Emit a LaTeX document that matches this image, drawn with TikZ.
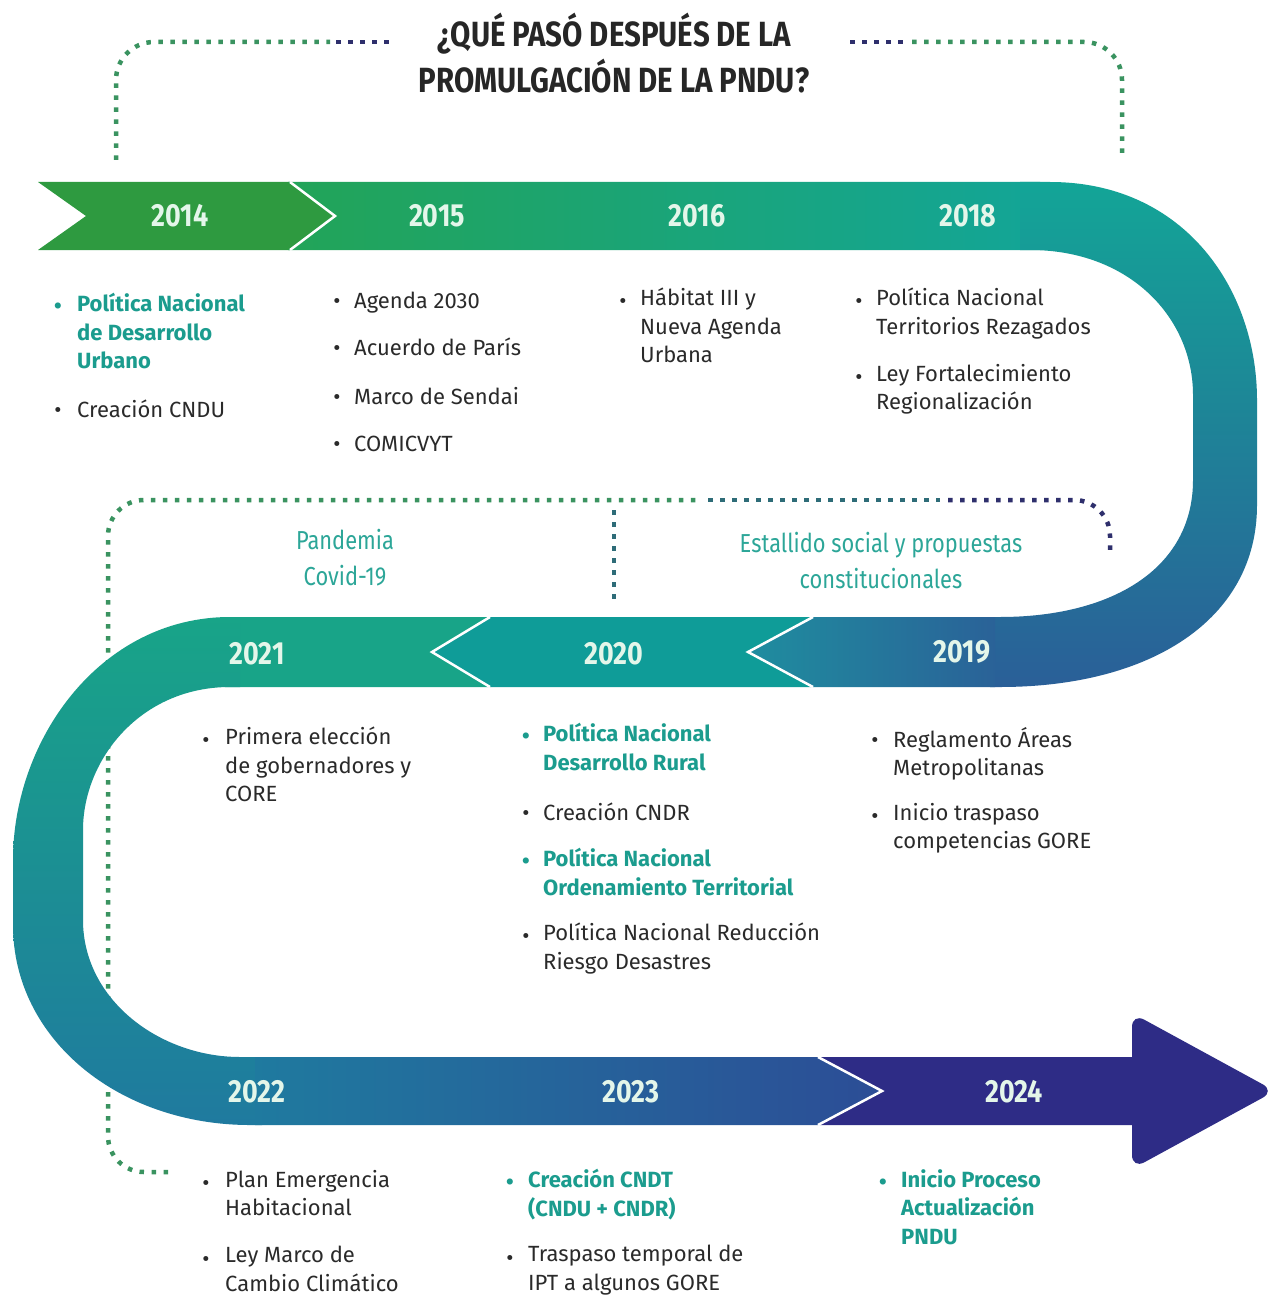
\documentclass[tikz,border=0pt]{standalone}
\usepackage{fontspec}
\setmainfont{Fira Sans}
\newfontfamily\condf[FakeStretch=0.84]{Fira Sans}
\usetikzlibrary{calc}
\definecolor{txtdark}{HTML}{2A2A2A}
\definecolor{tealbold}{HTML}{1B9C8E}
\definecolor{tealbl}{HTML}{2CA698}
\definecolor{yrtxt}{HTML}{E4F6EA}
\definecolor{gDark}{HTML}{2E9A40}
\definecolor{gA}{HTML}{22A458}
\definecolor{gB}{HTML}{19A67C}
\definecolor{gC}{HTML}{13A597}
\definecolor{bU}{HTML}{2A5F98}
\definecolor{b19a}{HTML}{1F8D9F}
\definecolor{b19b}{HTML}{2A6298}
\definecolor{t20}{HTML}{0F9C98}
\definecolor{t21}{HTML}{18A488}
\definecolor{b22}{HTML}{1F7A9F}
\definecolor{b23}{HTML}{2C4D96}
\definecolor{ind}{HTML}{2E2C86}
\definecolor{dgreen}{HTML}{3A9360}
\definecolor{dmid}{HTML}{2E6C78}
\definecolor{dnavy}{HTML}{2E2F6C}
\tikzset{
  bodyf/.style={font={\fontsize{22}{28.5}\selectfont}},
  plain/.style={bodyf, text=txtdark},
  boldt/.style={font={\fontsize{22}{28.5}\selectfont\bfseries}, text=tealbold},
  bul/.style={inner sep=0pt, anchor=base},
  itemtxt/.style={inner sep=0pt, anchor=north west, align=left, execute at begin node=\strut},
  yr/.style={font={\fontsize{32}{36}\selectfont\condf\bfseries}, text=yrtxt, inner sep=0pt},
  lab/.style={font={\fontsize{26}{36}\selectfont\condf}, text=tealbl, align=center, inner sep=0pt},
  ttl/.style={font={\fontsize{35}{46}\selectfont\condf\bfseries}, text=black!85, align=center, inner sep=0pt},
  dotl/.style={line width=4.5pt, dash pattern=on 4.5pt off 7.5pt},
  chev/.style={draw=white, line width=2.5pt, line join=miter},
}
% name, bullet x, text x, baseline y, style, text
\newcommand\bitem[6]{%
  \node[bul,#5] (#1b) at (#2,#4) {•};
  \node[itemtxt,#5] (#1) at (#3,{#4-20}) {#6};
}
\begin{document}
\begin{tikzpicture}[x=1pt,y=-1pt]
\useasboundingbox (0,0) rectangle (1271,1300);
\fill[white] (0,0) rectangle (1271,1300);

% ---------- dotted guide lines ----------
\draw[dotl, dgreen, rounded corners=38] (116,160) -- (116,42) -- (330,42);
\draw[dotl, dnavy] (336,42) -- (390,42);
\draw[dotl, dnavy] (850,42) -- (906,42);
\draw[dotl, dgreen, rounded corners=38] (912,42) -- (1122,42) -- (1122,160);

\draw[dotl, dgreen, rounded corners=36] (168,1172) -- (108,1172) -- (108,500) -- (700,500);
\draw[dotl, dmid] (708,500) -- (940,500);
\draw[dotl, dnavy, rounded corners=36] (948,500) -- (1110,500) -- (1110,552);
\draw[dotl, dmid] (614,510) -- (614,602);

% ---------- band ----------
% 2014
\fill[gDark] (38,182) -- (290,182) -- (335,216) -- (290,250) -- (38,250) -- (86,216) -- cycle;
% 2015-2018
\shade[left color=gA, middle color=gB, right color=gC]
  (288,182) -- (1040,182) -- (1040,250) -- (288,250) -- (333,216) -- cycle;
% right U
\shade[top color=gC, bottom color=bU]
  (1020,182) -- (1050,182) .. controls (1185,182) and (1257,290) .. (1257,400)
  -- (1257,505) .. controls (1257,620) and (1150,687) .. (1000,687)
  -- (990,687) -- (990,617) -- (1000,617) .. controls (1110,617) and (1193,570) .. (1193,480)
  -- (1193,395) .. controls (1193,318) and (1130,250) .. (1030,250) -- (1020,250) -- cycle;
% 2019
\shade[left color=b19a, right color=b19b]
  (813,617) -- (995,617) -- (995,687) -- (813,687) -- (748,652) -- cycle;
% 2020
\fill[t20] (490,617) -- (813,617) -- (748,652) -- (813,687) -- (490,687) -- (432,652) -- cycle;
% 2021
\fill[t21] (225,617) -- (490,617) -- (432,652) -- (490,687) -- (225,687) -- cycle;
% left U
\shade[top color=t21, bottom color=b22]
  (240,617) -- (230,617) .. controls (100,617) and (13,740) .. (13,860)
  -- (13,925) .. controls (13,1040) and (120,1125) .. (250,1125)
  -- (262,1125) -- (262,1057) -- (240,1057) .. controls (160,1057) and (83,1000) .. (83,920)
  -- (83,830) .. controls (83,760) and (140,687) .. (230,687) -- (240,687) -- cycle;
% 2022-2023
\shade[left color=b22, right color=b23]
  (255,1057) -- (818,1057) -- (882,1091) -- (818,1125) -- (255,1125) -- cycle;
% 2024 arrow
\fill[ind] (818,1057) -- (1132,1057)
  [rounded corners=14] -- (1132,1013) -- (1275,1091) -- (1132,1169) [sharp corners] -- (1132,1125)
  -- (818,1125) -- (882,1091) -- cycle;

% chevron separators
\draw[chev] (290,182) -- (335,216) -- (290,250);
\draw[chev] (813,617) -- (748,652) -- (813,687);
\draw[chev] (490,617) -- (432,652) -- (490,687);
\draw[chev] (818,1057) -- (882,1091) -- (818,1125);

% ---------- years ----------
\node[yr] (y2014) at (180,216) {2014};
\node[yr] (y2015) at (437,216) {2015};
\node[yr] (y2016) at (697,216) {2016};
\node[yr] (y2018) at (968,216) {2018};
\node[yr] (y2021) at (257,654) {2021};
\node[yr] (y2020) at (614,654) {2020};
\node[yr] (y2019) at (962,652) {2019};
\node[yr] (y2022) at (257,1092) {2022};
\node[yr] (y2023) at (631,1092) {2023};
\node[yr] (y2024) at (1014,1092) {2024};

% ---------- title ----------
\node[ttl] (title) at (614,53) {¿QUÉ PASÓ DESPUÉS DE LA\\PROMULGACIÓN DE LA PNDU?};

% ---------- labels ----------
\node[lab] (pand) at (345,558) {Pandemia\\Covid-19};
\node[lab] (estal) at (881,561) {Estallido social y propuestas\\constitucionales};

% ---------- items ----------
\bitem{a1}{58}{77}{313}{boldt}{Política Nacional\\de Desarrollo\\Urbano}
\bitem{a2}{58}{77}{417}{plain}{Creación CNDU}

\bitem{b1}{337}{354}{308}{plain}{Agenda 2030}
\bitem{b2}{337}{354}{355}{plain}{Acuerdo de París}
\bitem{b3}{337}{354}{404}{plain}{Marco de Sendai}
\bitem{b4}{337}{354}{451}{plain}{COMICVYT}

\bitem{c1}{623}{640}{308}{plain}{Hábitat III y\\Nueva Agenda\\Urbana}

\bitem{d1}{859}{876}{308}{plain}{Política Nacional\\Territorios Rezagados}
\bitem{d2}{859}{876}{384}{plain}{Ley Fortalecimiento\\Regionalización}

\bitem{e1}{206}{225}{747}{plain}{Primera elección\\de gobernadores y\\CORE}

\bitem{f1}{526}{543}{743}{boldt}{Política Nacional\\Desarrollo Rural}
\bitem{f2}{526}{543}{820}{plain}{Creación CNDR}
\bitem{f3}{526}{543}{868}{boldt}{Política Nacional\\Ordenamiento Territorial}
\bitem{f4}{526}{543}{943}{plain}{Política Nacional Reducción\\Riesgo Desastres}

\bitem{g1}{875}{893}{747}{plain}{Reglamento Áreas\\Metropolitanas}
\bitem{g2}{875}{893}{823}{plain}{Inicio traspaso\\competencias GORE}

\bitem{h1}{206}{225}{1190}{plain}{Plan Emergencia\\Habitacional}
\bitem{h2}{206}{225}{1266}{plain}{Ley Marco de\\Cambio Climático}

\bitem{i1}{510}{528}{1189}{boldt}{Creación CNDT\\(CNDU + CNDR)}
\bitem{i2}{510}{528}{1265}{plain}{Traspaso temporal de\\IPT a algunos GORE}

\bitem{j1}{883}{901}{1189}{boldt}{Inicio Proceso\\Actualización\\PNDU}
\end{tikzpicture}
\end{document}
